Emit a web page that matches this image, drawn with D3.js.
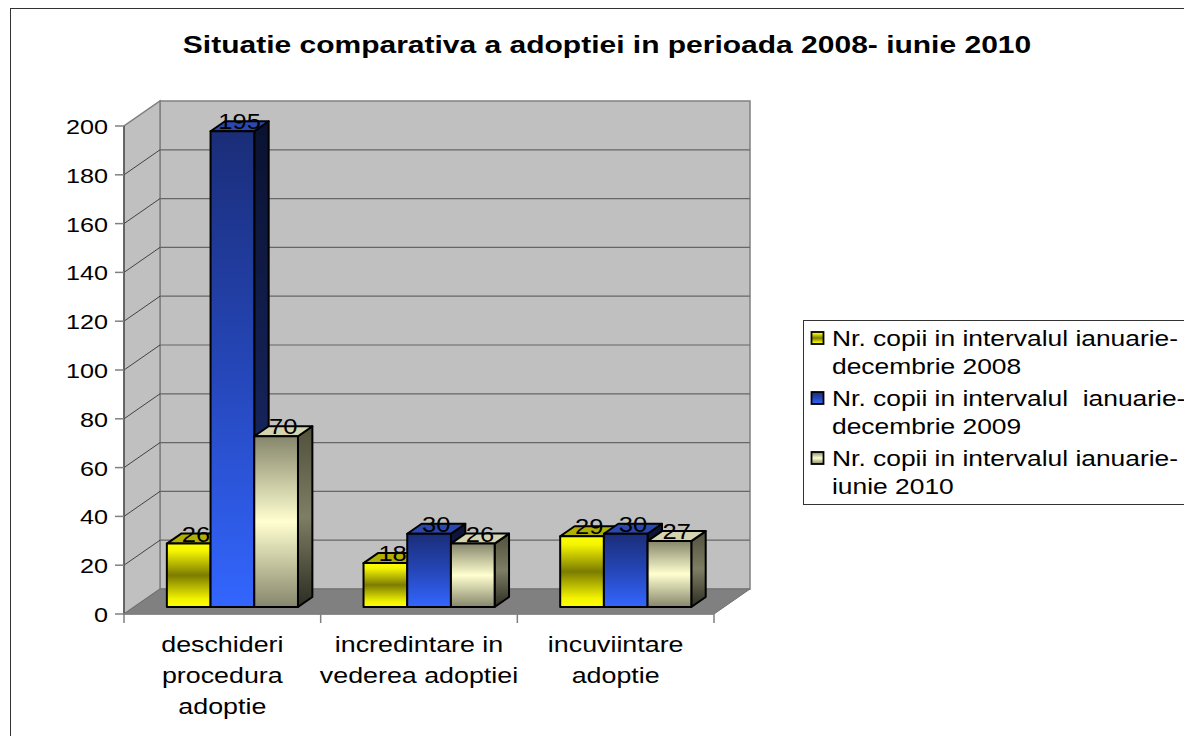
<!DOCTYPE html>
<html lang="ro">
<head>
<meta charset="utf-8">
<script src="https://d3js.org/d3.v7.min.js"></script>
<style>
    body { margin: 0px; background: #fff; }
    svg { display: block; }
    text { font-family: "Liberation Sans", Arial, sans-serif; fill: #000; }
</style>
</head>
<body>
<svg id="chart" width="1184" height="736"></svg>
<script>
// Data
var title = "Situatie comparativa a adoptiei in perioada 2008- iunie 2010";
var categories = ["deschideri procedura adoptie", "incredintare in vederea adoptiei", "incuviintare adoptie"];
var categoryLines = [["deschideri", "procedura", "adoptie"], ["incredintare in", "vederea adoptiei"], ["incuviintare", "adoptie"]];
var seriesNames = ["2008", "2009", "2010"];
var seriesLines = [
    ["Nr. copii in intervalul ianuarie-", "decembrie 2008"],
    ["Nr. copii in intervalul  ianuarie-", "decembrie 2009"],
    ["Nr. copii in intervalul ianuarie-", "iunie 2010"]
];
var values2008 = [26, 18, 29];
var values2009 = [195, 30, 30];
var values2010 = [70, 26, 27];
var seriesValues = [values2008, values2009, values2010];
var yTicks = [0, 20, 40, 60, 80, 100, 120, 140, 160, 180, 200];

// Layout
var svg = d3.select("#chart");
var plot = { left: 124, right: 714, bottom: 614, top: 126 };
var DX = 36, DY = 25;      // wall depth offset
var z0 = 0.28, z1 = 0.68;  // bar depth

var x = d3.scaleBand().domain(categories).range([plot.left, plot.right]).padding(0);
var xInner = d3.scaleBand().domain(seriesNames).range([0, x.bandwidth()]).paddingInner(0).paddingOuter(0.75);
var y = d3.scaleLinear().domain([0, 200]).range([plot.bottom, plot.top]);

function P(px, v, z) { return [px + z * DX, y(v) - z * DY]; }
function pts(arr) { return arr.map(function(p) { return p[0] + "," + p[1]; }).join(" "); }

// text in the picture is drawn wider than normal, so scale it in x
function stretchedText(g, tx, ty, str, size, sx, anchor, weight) {
    return g.append("text")
        .attr("transform", "translate(" + tx + "," + ty + ") scale(" + sx + ",1)")
        .attr("text-anchor", anchor)
        .style("font-size", size + "px")
        .style("font-weight", weight || "normal")
        .style("white-space", "pre")
        .text(str);
}

// Gradients
var defs = svg.append("defs");
function grad(id, stops) {
    var lg = defs.append("linearGradient").attr("id", id)
        .attr("x1", 0).attr("y1", 0).attr("x2", 0).attr("y2", 1);
    stops.forEach(function(s) { lg.append("stop").attr("offset", s[0]).attr("stop-color", s[1]); });
}
grad("front0", [[0, "#ffff00"], [0.12, "#f4f400"], [0.5, "#7c7c00"], [0.88, "#f4f400"], [1, "#ffff00"]]);
grad("front1", [[0, "#1a2d78"], [0.5, "#2546b8"], [1, "#3366ff"]]);
grad("front2", [[0, "#86866c"], [0.5, "#ffffd0"], [1, "#86866c"]]);
grad("side0", [[0, "#707000"], [0.5, "#404000"], [1, "#707000"]]);
grad("side1", [[0, "#0b1230"], [1, "#1a2d72"]]);
grad("side2", [[0, "#50503c"], [0.5, "#7e7e64"], [1, "#2c2c22"]]);
var topColors = ["#b0b000", "#2a48b0", "#d4d4b0"];
var legendColors = ["front0", "front1", "front2"];

// Outer border
svg.append("rect").attr("x", 10.5).attr("y", 8.5).attr("width", 1200).attr("height", 800)
    .attr("fill", "none").attr("stroke", "#333").attr("stroke-width", 1);

// Title
stretchedText(svg, 607, 53, title, 24, 1.25, "middle", "bold");

// Walls and floor
var wallColor = "#c0c0c0", floorColor = "#808080", edgeColor = "#808080";
svg.append("polygon")
    .attr("points", pts([P(plot.left, 0, 1), P(plot.right, 0, 1), P(plot.right, 200, 1), P(plot.left, 200, 1)]))
    .attr("fill", wallColor).attr("stroke", edgeColor).attr("stroke-width", 1.5);
svg.append("polygon")
    .attr("points", pts([P(plot.left, 0, 0), P(plot.left, 0, 1), P(plot.left, 200, 1), P(plot.left, 200, 0)]))
    .attr("fill", wallColor).attr("stroke", edgeColor).attr("stroke-width", 1.5);
svg.append("polygon")
    .attr("points", pts([P(plot.left, 0, 0), P(plot.right, 0, 0), P(plot.right, 0, 1), P(plot.left, 0, 1)]))
    .attr("fill", floorColor).attr("stroke", "#707070").attr("stroke-width", 1);

// Gridlines on back wall, diagonals on side wall
var inner = yTicks.filter(function(t) { return t > 0 && t < 200; });
svg.append("g").selectAll("line").data(inner).enter().append("line")
    .attr("x1", function(d) { return P(plot.left, d, 1)[0]; })
    .attr("y1", function(d) { return P(plot.left, d, 1)[1]; })
    .attr("x2", function(d) { return P(plot.right, d, 1)[0]; })
    .attr("y2", function(d) { return P(plot.right, d, 1)[1]; })
    .attr("stroke", "#666").attr("stroke-width", 1.2);
svg.append("g").selectAll("line").data(inner).enter().append("line")
    .attr("x1", function(d) { return P(plot.left, d, 0)[0]; })
    .attr("y1", function(d) { return P(plot.left, d, 0)[1]; })
    .attr("x2", function(d) { return P(plot.left, d, 1)[0]; })
    .attr("y2", function(d) { return P(plot.left, d, 1)[1]; })
    .attr("stroke", "#222").attr("stroke-width", 0.8);

// Value axis
var yAxis = svg.append("g");
yAxis.append("line").attr("x1", plot.left).attr("x2", plot.left)
    .attr("y1", y(200)).attr("y2", y(0)).attr("stroke", "#555").attr("stroke-width", 1.5);
yAxis.selectAll("line.tick").data(yTicks).enter().append("line").attr("class", "tick")
    .attr("x1", plot.left - 9).attr("x2", plot.left)
    .attr("y1", function(d) { return y(d); }).attr("y2", function(d) { return y(d); })
    .attr("stroke", "#808080").attr("stroke-width", 1.5);
yTicks.forEach(function(t) {
    stretchedText(yAxis, 108, y(t) + 8, String(t), 21, 1.2, "end");
});

// Category axis
var xAxis = svg.append("g");
xAxis.append("line").attr("x1", plot.left).attr("x2", plot.right)
    .attr("y1", plot.bottom).attr("y2", plot.bottom).attr("stroke", "#808080").attr("stroke-width", 1.5);
var bounds = categories.map(function(c) { return x(c); }).concat([plot.right]);
xAxis.selectAll("line.tick").data(bounds).enter().append("line").attr("class", "tick")
    .attr("x1", function(d) { return d; }).attr("x2", function(d) { return d; })
    .attr("y1", plot.bottom).attr("y2", plot.bottom + 9)
    .attr("stroke", "#808080").attr("stroke-width", 1.5);
categories.forEach(function(c, i) {
    categoryLines[i].forEach(function(line, j) {
        stretchedText(xAxis, x(c) + x.bandwidth() / 2, 652 + j * 31, line, 22, 1.22, "middle");
    });
});

// Bars: side, top, front, cluster by cluster left to right
var bars = svg.append("g");
var labels = [];
categories.forEach(function(c, ci) {
    seriesNames.forEach(function(s, si) {
        var v = seriesValues[si][ci];
        var x0 = x(c) + xInner(s), x1 = x0 + xInner.bandwidth();
        var g = bars.append("g").attr("stroke", "#000").attr("stroke-width", 2).attr("stroke-linejoin", "round");
        g.append("polygon")
            .attr("points", pts([P(x1, 0, z0), P(x1, 0, z1), P(x1, v, z1), P(x1, v, z0)]))
            .attr("fill", "url(#side" + si + ")");
        g.append("polygon")
            .attr("points", pts([P(x0, v, z0), P(x1, v, z0), P(x1, v, z1), P(x0, v, z1)]))
            .attr("fill", topColors[si]);
        g.append("polygon")
            .attr("points", pts([P(x0, 0, z0), P(x1, 0, z0), P(x1, v, z0), P(x0, v, z0)]))
            .attr("fill", "url(#front" + si + ")");
        labels.push({ p: P((x0 + x1) / 2, v, (z0 + z1) / 2), v: v });
    });
});
var labelG = svg.append("g");
labels.forEach(function(l) {
    stretchedText(labelG, l.p[0], l.p[1] + 3, String(l.v), 22, 1.16, "middle");
});

// Legend
var legend = svg.append("g");
legend.append("rect").attr("x", 803.5).attr("y", 320.5).attr("width", 400).attr("height", 184)
    .attr("fill", "#fff").attr("stroke", "#333").attr("stroke-width", 1);
seriesLines.forEach(function(lines, i) {
    var base = 346 + i * 60;
    legend.append("rect").attr("x", 811.5).attr("y", base - 14).attr("width", 12).attr("height", 12)
        .attr("fill", "url(#" + legendColors[i] + ")").attr("stroke", "#000").attr("stroke-width", 1.8);
    lines.forEach(function(line, j) {
        stretchedText(legend, 832, base + j * 28, line, 22, 1.2, "start");
    });
});
</script>
</body>
</html>
